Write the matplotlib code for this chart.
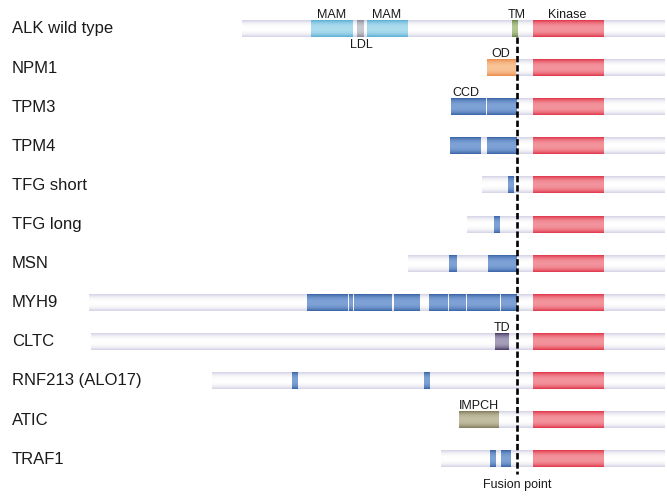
import matplotlib
matplotlib.use('Agg')
import matplotlib.pyplot as plt
import matplotlib.colors as mcolors
import numpy as np

plt.rcParams['font.family'] = ['Liberation Sans', 'DejaVu Sans']

# fusion partners, one row each (top to bottom)
labels = ['ALK wild type', 'NPM1', 'TPM3', 'TPM4', 'TFG short', 'TFG long',
          'MSN', 'MYH9', 'CLTC', 'RNF213 (ALO17)', 'ATIC', 'TRAF1']
bar_start = [242, 487, 451, 450, 482, 467, 408, 89, 91, 212, 459, 441]
bar_end = 665
kinase = (533, 604)
fusion_x = 517

# domains: (row, start, end, kind)
alk_domains = [(0, 311, 353, 'mam'), (0, 357, 364, 'ldl'), (0, 367, 408, 'mam'),
               (0, 512, 518, 'tm')]
partner_domains = [
    (1, 487, 516, 'od'),
    (2, 451, 486, 'blue'), (2, 487, 517, 'blue'),
    (3, 450, 481, 'blue'), (3, 487, 517, 'blue'),
    (4, 508, 514, 'blue'),
    (5, 494, 500, 'blue'),
    (6, 449, 457, 'blue'), (6, 488, 517, 'blue'),
    (7, 307, 347.5, 'blue'), (7, 349, 352.8, 'blue'), (7, 354, 392, 'blue'),
    (7, 393.5, 411.8, 'blue'), (7, 413, 420, 'blue'), (7, 428.5, 447, 'blue'),
    (7, 448.5, 465.3, 'blue'), (7, 466.5, 499.5, 'blue'), (7, 501, 517, 'blue'),
    (8, 494.5, 508, 'td'),
    (9, 291.7, 297.3, 'blue'), (9, 424.3, 430, 'blue'),
    (10, 459, 498.5, 'impch'),
    (11, 490, 495.7, 'blue'), (11, 500.7, 510, 'blue'),
]

# domain names: (text, x, row, side)
domain_labels = [('MAM', 332, 0, 'above'), ('MAM', 387, 0, 'above'),
                 ('LDL', 361, 0, 'below'), ('TM', 517, 0, 'above'),
                 ('Kinase', 567, 0, 'above'), ('OD', 501, 1, 'above'),
                 ('CCD', 466, 2, 'above'), ('TD', 502, 8, 'above'),
                 ('IMPCH', 479, 10, 'above')]

# (edge colour, centre colour)
palette = {
    'light': ('#d3d3e5', '#ffffff'),
    'kinase': ('#e0364a', '#f3939c'),
    'blue': ('#3a64a6', '#7ea2d6'),
    'mam': ('#5aafd4', '#addcef'),
    'ldl': ('#8a8a96', '#cacad2'),
    'tm': ('#6a8646', '#b4c894'),
    'od': ('#ea8c4c', '#f9c497'),
    'td': ('#473a62', '#a69fba'),
    'impch': ('#837c5c', '#c2bea2'),
}

H = 0.41  # bar height in row units


def gradient_bar(ax, row, x0, x1, kind, z=2):
    edge, centre = [np.array(mcolors.to_rgb(c)) for c in palette[kind]]
    t = np.linspace(0, 1, 40)
    w = 1 - np.abs(2 * t - 1) ** 2.5
    img = edge[None, :] + (centre - edge)[None, :] * w[:, None]
    ax.imshow(img[:, None, :], extent=[x0, x1, row + H / 2, row - H / 2],
              aspect='auto', interpolation='bilinear', zorder=z)


fig = plt.figure(figsize=(6.67, 4.96), dpi=100)
ax = fig.add_axes([0, 0, 1, 1])

for i, lab in enumerate(labels):
    ax.text(12, i, lab, fontsize=12, color='#1a1a1a', va='center', ha='left')
    gradient_bar(ax, i, bar_start[i], bar_end, 'light', z=1)
    gradient_bar(ax, i, kinase[0], kinase[1], 'kinase')

for row, x0, x1, kind in alk_domains + partner_domains:
    gradient_bar(ax, row, x0, x1, kind, z=3)

for txt, x, row, side in domain_labels:
    if side == 'above':
        ax.text(x, row - H / 2 - 0.07, txt, fontsize=9, ha='center',
                va='baseline', color='#1a1a1a')
    else:
        ax.text(x, row + H / 2 + 0.29, txt, fontsize=9, ha='center',
                va='baseline', color='#1a1a1a')

ax.plot([fusion_x, fusion_x], [H / 2, len(labels) - 1 + 0.37], color='black',
        lw=1.9, linestyle=(0, (2.4, 1.1)), zorder=5)
ax.text(fusion_x, len(labels) - 1 + 0.75, 'Fusion point', fontsize=9,
        ha='center', va='baseline', color='#1a1a1a')

ax.set_xlim(0, 667)
ax.set_ylim((496 - 29) / 39.1, -29 / 39.1)
ax.axis('off')

fig.savefig('out.png', dpi=100)
